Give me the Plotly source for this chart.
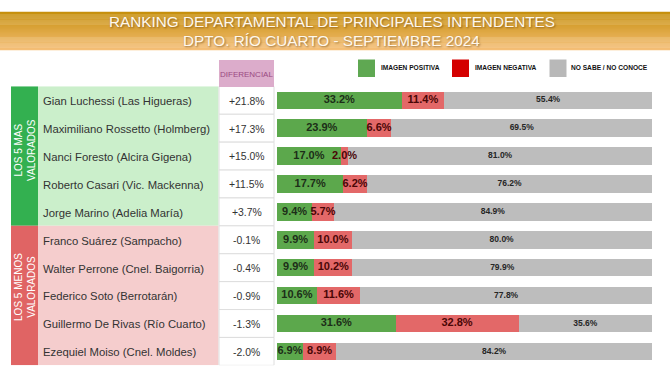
import plotly.graph_objects as go

# ---------------- data ----------------
names = [
    "Gian Luchessi (Las Higueras)",
    "Maximiliano Rossetto (Holmberg)",
    "Nanci Foresto (Alcira Gigena)",
    "Roberto Casari (Vic. Mackenna)",
    "Jorge Marino (Adelia María)",
    "Franco Suárez (Sampacho)",
    "Walter Perrone (Cnel. Baigorria)",
    "Federico Soto (Berrotarán)",
    "Guillermo De Rivas (Río Cuarto)",
    "Ezequiel Moiso (Cnel. Moldes)",
]
diferencial = ["+21.8%", "+17.3%", "+15.0%", "+11.5%", "+3.7%",
               "-0.1%", "-0.4%", "-0.9%", "-1.3%", "-2.0%"]
positiva = [33.2, 23.9, 17.0, 17.7, 9.4, 9.9, 9.9, 10.6, 31.6, 6.9]
negativa = [11.4, 6.6, 2.0, 6.2, 5.7, 10.0, 10.2, 11.6, 32.8, 8.9]
nosabe = [55.4, 69.5, 81.0, 76.2, 84.9, 80.0, 79.9, 77.8, 35.6, 84.2]
group_labels = ["LOS 5 MAS<br>VALORADOS", "LOS 5 MENOS<br>VALORADOS"]
legend_labels = ["IMAGEN POSITIVA", "IMAGEN NEGATIVA", "NO SABE / NO CONOCE"]
title_lines = ["RANKING DEPARTAMENTAL DE PRINCIPALES INTENDENTES",
               "DPTO. RÍO CUARTO - SEPTIEMBRE 2024"]

# ---------------- style ----------------
W, H = 670, 375
def px(x): return x / W
def py(y): return 1 - y / H

C_POS, C_NEG, C_NS = "#5ca84c", "#e36868", "#bdbdbd"
FONT = "Liberation Sans, Arial, sans-serif"
rows = list(range(len(names)))

fig = go.Figure()

# stacked bars
for vals, col in [(positiva, C_POS), (negativa, C_NEG), (nosabe, C_NS)]:
    fig.add_trace(go.Bar(x=vals, y=rows, orientation="h", marker=dict(color=col, line=dict(width=0)),
                         width=0.63, hoverinfo="skip", showlegend=False))

# bar labels (centered in each segment)
starts_neg = positiva
starts_ns = [p + n for p, n in zip(positiva, negativa)]
lab_specs = [
    ([p / 2 for p in positiva], positiva, dict(size=11, color="#1c2e18", family=FONT, weight="bold")),
    ([s + n / 2 for s, n in zip(starts_neg, negativa)], negativa, dict(size=11, color="#4a0606", family=FONT, weight="bold")),
    ([s + n / 2 for s, n in zip(starts_ns, nosabe)], nosabe, dict(size=8.5, color="#262626", family=FONT, weight="bold")),
]
for xs, vals, f in lab_specs:
    fig.add_trace(go.Scatter(x=xs, y=rows, mode="text", text=[f"{v:.1f}%" for v in vals],
                             textposition="middle center", textfont=f, hoverinfo="skip",
                             showlegend=False, cliponaxis=False))

shapes = []
# header gradient band
top, bot = 11.7, 50.0
c0, c1 = (198, 143, 12), (245, 190, 118)
n = 40
for i in range(n):
    t = i / (n - 1)
    c = tuple(int(round(a + (b - a) * t)) for a, b in zip(c0, c1))
    y0 = top + (bot - top) * i / n
    y1 = top + (bot - top) * (i + 1) / n + 0.3
    shapes.append(dict(type="rect", xref="paper", yref="paper", x0=0, x1=1, y0=py(y1), y1=py(y0),
                       fillcolor=f"rgb{c}", line=dict(width=0), layer="below"))

# group panels
for (g0, g1), dark, light in [((-0.5, 4.5), "#33b050", "#cbefcb"), ((4.5, 9.5), "#e06464", "#f5cdcd")]:
    shapes.append(dict(type="rect", xref="paper", yref="y", x0=px(11), x1=px(38), y0=g0, y1=g1,
                       fillcolor=dark, line=dict(width=0), layer="below"))
    shapes.append(dict(type="rect", xref="paper", yref="y", x0=px(38), x1=px(218.5), y0=g0, y1=g1,
                       fillcolor=light, line=dict(width=0), layer="below"))

# diferencial column cells
for r in rows:
    shapes.append(dict(type="rect", xref="paper", yref="y", x0=px(219), x1=px(274), y0=r - 0.5, y1=r + 0.5,
                       fillcolor="white", line=dict(color="#dedede", width=1), layer="below"))
# diferencial header
shapes.append(dict(type="rect", xref="paper", yref="paper", x0=px(219), x1=px(274), y0=py(87), y1=py(60),
                   fillcolor="#dcaccb", line=dict(width=0), layer="below"))

# legend squares
for x0, col in [(358, "#5fa852"), (452, "#d40000"), (549.5, "#b8b8b8")]:
    shapes.append(dict(type="rect", xref="paper", yref="paper", x0=px(x0), x1=px(x0 + 17), y0=py(77), y1=py(59.5),
                       fillcolor=col, line=dict(width=0)))

ann = []
# title
for yy, txt in zip([21, 41], title_lines):
    ann.append(dict(text=txt, xref="paper", yref="paper", x=px(331.5), y=py(yy), xanchor="center", yanchor="middle",
                    showarrow=False, font=dict(family=FONT, size=15.3, color="#fff8ec",
                                               shadow="1px 1px 2px rgba(90,50,0,0.55)")))
# legend texts
for x0, txt in zip([378.5, 472.5, 569], legend_labels):
    ann.append(dict(text=txt, xref="paper", yref="paper", x=px(x0), y=py(67.8), xanchor="left", yanchor="middle",
                    showarrow=False, font=dict(family=FONT, size=6.6, color="#111111", weight="bold")))
# diferencial header text
ann.append(dict(text="DIFERENCIAL", xref="paper", yref="paper", x=px(246.5), y=py(74.5), xanchor="center",
                yanchor="middle", showarrow=False, font=dict(family=FONT, size=8, color="#9a4a82")))
# names and diferencial values
for r in rows:
    ann.append(dict(text=names[r], xref="paper", yref="y", x=px(40.5), y=r + 0.03, xanchor="left", yanchor="middle",
                    showarrow=False, font=dict(family=FONT, size=11.3, color="#333333")))
    ann.append(dict(text=diferencial[r], xref="paper", yref="y", x=px(247), y=r + 0.03, xanchor="center",
                    yanchor="middle", showarrow=False, font=dict(family=FONT, size=10.4, color="#333333")))
# group vertical labels
for gy, txt in zip([1.78, 6.69], group_labels):
    ann.append(dict(text=txt, xref="paper", yref="y", x=px(25), y=gy, xanchor="center", yanchor="middle",
                    textangle=-90, showarrow=False, font=dict(family=FONT, size=10, color="#ffffff")))

fig.update_layout(
    width=W, height=H, margin=dict(l=0, r=0, t=0, b=0),
    paper_bgcolor="white", plot_bgcolor="rgba(0,0,0,0)",
    barmode="stack", showlegend=False,
    xaxis=dict(domain=[px(277), px(652)], range=[0, 100], visible=False, fixedrange=True),
    yaxis=dict(domain=[py(365.35), py(86.35)], range=[9.5, -0.5], visible=False, fixedrange=True),
    shapes=shapes, annotations=ann,
)

fig.write_html("out.html", config={"displayModeBar": False},
               post_script="document.body.style.margin='0';document.body.style.overflow='hidden';")
